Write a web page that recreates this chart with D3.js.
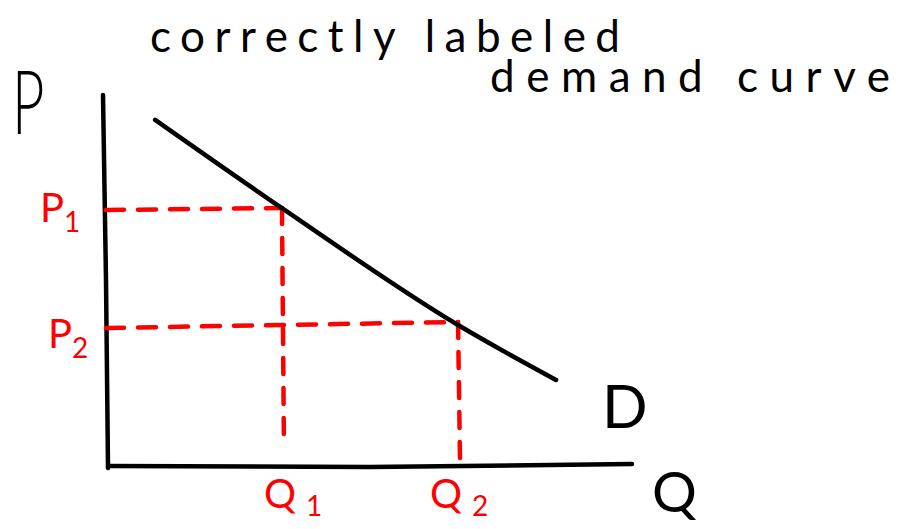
<!DOCTYPE html>
<html>
<head>
<meta charset="utf-8">
<script src="https://cdn.jsdelivr.net/npm/d3@7"></script>
<style>
  body { margin: 0; background: #fff; }
  svg { display: block; }
</style>
</head>
<body>
<svg id="chart"></svg>
<script>
// demand curve points [quantity, price]
const demandCurve = [[0.9, 9.33], [3.32, 6.95], [6.68, 3.8], [8.55, 2.32]];
// marked points on the curve
const marked = [
  { q: 3.32, p: 6.9, qLabel: "Q", qSub: "1", pLabel: "P", pSub: "1" },
  { q: 6.68, p: 3.72, qLabel: "Q", qSub: "2", pLabel: "P", pSub: "2" }
];
const titleLines = ["correctly labeled", "demand curve"];
const axisLabels = { y: "P", x: "Q", curve: "D" };

const width = 900, height = 529;
const svg = d3.select('#chart').attr('width', width).attr('height', height);

const x = d3.scaleLinear().domain([0, 10]).range([108, 632]);
const y = d3.scaleLinear().domain([0, 10]).range([466, 95]);

const font = "Lato, 'Open Sans', sans-serif";

// axes (hand drawn look: plain strokes)
svg.append('path')
  .attr('d', d3.line()([[x(0) - 5, y(10)], [x(0) - 2, y(5)], [x(0), y(0) + 2]]))
  .attr('fill', 'none').attr('stroke', '#000').attr('stroke-width', 4.5)
  .attr('stroke-linecap', 'round');
svg.append('path')
  .attr('d', d3.line()([[x(0), y(0)], [x(5), y(0) + 1], [x(10), y(0) - 2]]))
  .attr('fill', 'none').attr('stroke', '#000').attr('stroke-width', 4.5)
  .attr('stroke-linecap', 'round');

// dashed guides
const red = '#ff0000';
marked.forEach((d, i) => {
  svg.append('line')
    .attr('x1', x(0) - 2).attr('x2', x(d.q))
    .attr('y1', y(d.p)).attr('y2', y(d.p) - (i ? 6 : 2))
    .attr('stroke', red).attr('stroke-width', 4.5)
    .attr('stroke-dasharray', '18 14').attr('stroke-linecap', 'round');
  svg.append('line')
    .attr('x1', x(d.q)).attr('x2', x(d.q) + 2)
    .attr('y1', y(d.p) - (i ? 6 : 2)).attr('y2', y(0) - (i ? 4 : 18))
    .attr('stroke', red).attr('stroke-width', 4.5)
    .attr('stroke-dasharray', '16 14').attr('stroke-linecap', 'round');
});

// demand curve
svg.append('path')
  .attr('d', d3.line().x(d => x(d[0])).y(d => y(d[1])).curve(d3.curveMonotoneX)(demandCurve))
  .attr('fill', 'none').attr('stroke', '#000').attr('stroke-width', 4.5)
  .attr('stroke-linecap', 'round');

// title
svg.append('text').attr('x', 150).attr('y', 52)
  .attr('textLength', 470).attr('lengthAdjust', 'spacing')
  .style('font-family', font).style('font-size', '44px').text(titleLines[0]);
svg.append('text').attr('x', 490).attr('y', 92)
  .attr('textLength', 400).attr('lengthAdjust', 'spacing')
  .style('font-family', font).style('font-size', '44px').text(titleLines[1]);

// axis labels (P is drawn tall and narrow like the sketch)
svg.append('text').attr('transform', 'translate(12,134) scale(0.85,1.35)')
  .style('font-family', font).style('font-weight', 300)
  .style('font-size', '66px').text(axisLabels.y);
svg.append('text').attr('x', 652).attr('y', 512)
  .style('font-family', font).style('font-size', '56px').text(axisLabels.x);
svg.append('text').attr('x', 602).attr('y', 428)
  .style('font-family', font).style('font-size', '60px').text(axisLabels.curve);

// price / quantity labels
marked.forEach((d, i) => {
  const pt = svg.append('text').attr('x', i ? 48 : 40).attr('y', y(d.p) + (i ? 20 : 12))
    .style('font-family', font).style('font-size', '40px').attr('fill', red);
  pt.append('tspan').text(d.pLabel);
  pt.append('tspan').attr('dy', 10).style('font-size', '28px').text(d.pSub);

  const qt = svg.append('text').attr('x', x(d.q) - (i ? 28 : 18)).attr('y', 508)
    .style('font-family', font).style('font-size', '40px').attr('fill', red);
  qt.append('tspan').text(d.qLabel);
  qt.append('tspan').attr('dx', 10).attr('dy', 8).style('font-size', '28px').text(d.qSub);
});
</script>
</body>
</html>
